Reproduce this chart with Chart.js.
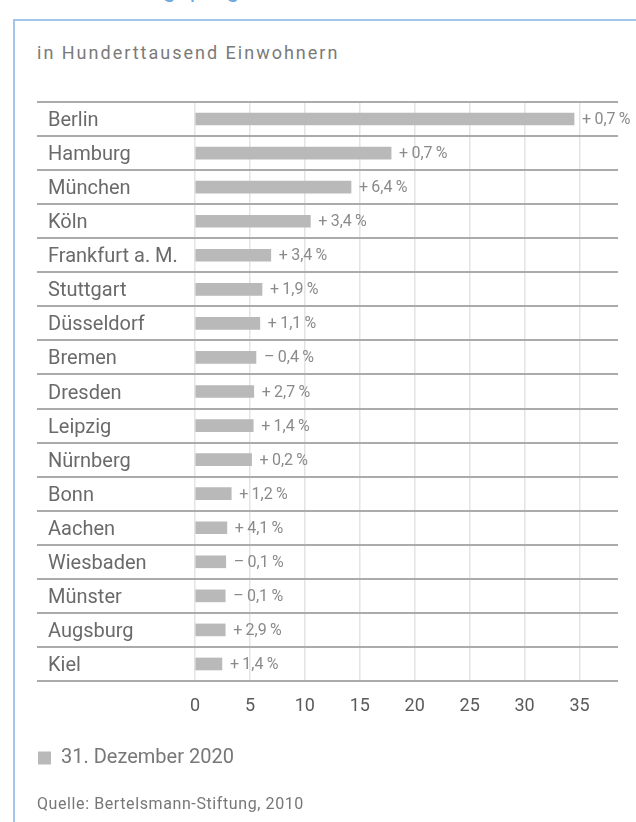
<!DOCTYPE html>
<html>
<head>
<meta charset="utf-8">
<script src="https://cdn.jsdelivr.net/npm/chart.js@4"></script>
<style>
  html, body { margin: 0; padding: 0; background: #fff; }
  body { width: 636px; height: 822px; position: relative; overflow: hidden; font-family: Roboto, "Noto Sans", sans-serif; }
  #frame { position: absolute; left: 13px; top: 19px; right: -10px; bottom: -10px; border-left: 2.5px solid #a3c6e8; border-top: 2px solid #a3c6e8; }
  #headline { position: absolute; left: 40px; top: -25px; font-size: 24px; color: #6fa8dc; letter-spacing: 0.5px; white-space: nowrap; }
  #subtitle { position: absolute; left: 37px; top: 42px; font-size: 18px; color: #7a7a7a; letter-spacing: 2px; white-space: nowrap; }
  #source { position: absolute; left: 37px; top: 794px; font-size: 16px; color: #777; letter-spacing: 0.6px; white-space: nowrap; }
  canvas { position: absolute; left: 0; top: 0; }
</style>
</head>
<body>
<div id="headline">Bevölkerungsprognose</div>
<div id="frame"></div>
<div id="subtitle">in Hunderttausend Einwohnern</div>
<canvas id="canvas" width="636" height="822"></canvas>
<div id="source">Quelle: Bertelsmann-Stiftung, 2010</div>
<script>
// Einwohner am 31.12.2020 in Hunderttausend
const cities = ['Berlin', 'Hamburg', 'München', 'Köln', 'Frankfurt a. M.', 'Stuttgart', 'Düsseldorf', 'Bremen',
    'Dresden', 'Leipzig', 'Nürnberg', 'Bonn', 'Aachen', 'Wiesbaden', 'Münster', 'Augsburg', 'Kiel']
const population2020 = [34.5, 17.85, 14.2, 10.5, 6.9, 6.1, 5.9, 5.55, 5.35, 5.3, 5.15, 3.3, 2.9, 2.8, 2.75, 2.75, 2.45]
const changePct = [0.7, 0.7, 6.4, 3.4, 3.4, 1.9, 1.1, -0.4, 2.7, 1.4, 0.2, 1.2, 4.1, -0.1, -0.1, 2.9, 1.4]
const xTicks = [0, 5, 10, 15, 20, 25, 30, 35]
const seriesLabel = '31. Dezember 2020'

var fmtChange = (v) => (v < 0 ? '–' : '+') + '\u2009' + Math.abs(v).toFixed(1).replace('.', ',') + '\u2009%'

const changeLabels = {
    id: 'changeLabels',
    afterDatasetsDraw: (chart) => {
        const ctx = chart.ctx
        const meta = chart.getDatasetMeta(0)
        ctx.save()
        ctx.font = '16px Roboto'
        ctx.fillStyle = '#8a8a8a'
        ctx.textBaseline = 'middle'
        ctx.textAlign = 'left'
        meta.data.forEach((bar, i) => {
            ctx.fillText(fmtChange(changePct[i]), bar.x + 8, bar.y + 1)
        })
        ctx.restore()
    }
}

// Beschriftungen der Städte etwas eingerückt
const shiftLabels = {
    id: 'shiftLabels',
    afterLayout: (chart) => {
        chart.scales.y.left = 48
    }
}

var chart = new Chart(document.getElementById('canvas'), {
    type: 'bar',
    data: {
        labels: cities,
        datasets: [{
            label: seriesLabel,
            data: population2020,
            backgroundColor: '#b9b9b9',
            borderWidth: 0,
            barThickness: 12
        }]
    },
    options: {
        indexAxis: 'y',
        responsive: false,
        animation: false,
        devicePixelRatio: 1,
        layout: { padding: { left: 28, right: 18, top: 102, bottom: 44 } },
        scales: {
            x: {
                min: 0,
                max: 38.5,
                afterBuildTicks: (scale) => { scale.ticks = xTicks.map(v => ({ value: v })) },
                afterFit: (scale) => { scale.height = 57 },
                border: { display: false },
                grid: { color: '#e4e4e4', lineWidth: 1.5, drawTicks: false },
                ticks: { padding: 15, color: '#5a5a5a', font: { family: 'Roboto', size: 18 } }
            },
            y: {
                afterFit: (scale) => { scale.width = 167 },
                border: { display: false },
                grid: {
                    offset: true,
                    color: (c) => c.index === cities.length ? '#8f8f8f' : '#ababab',
                    lineWidth: 2,
                    tickLength: 158
                },
                ticks: { crossAlign: 'far', labelOffset: 2, color: '#6a6a6a', font: { family: 'Roboto', size: 20 } }
            }
        },
        plugins: {
            legend: {
                position: 'bottom',
                align: 'start',
                labels: { boxWidth: 13, boxHeight: 13, padding: 10, color: '#777', font: { family: 'Roboto', size: 20 } }
            },
            tooltip: { enabled: false }
        }
    },
    plugins: [changeLabels, shiftLabels]
})
</script>
</body>
</html>
